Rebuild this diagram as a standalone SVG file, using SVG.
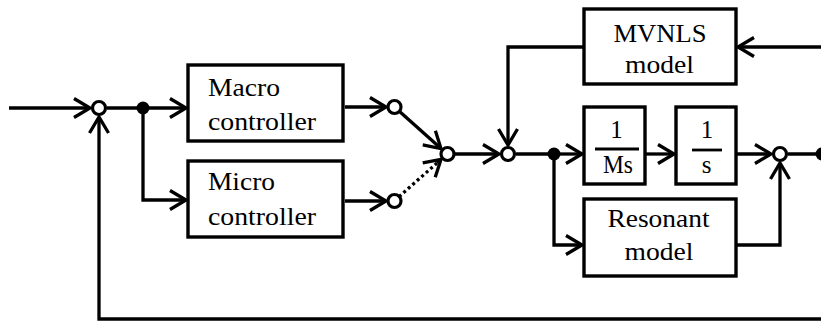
<svg xmlns="http://www.w3.org/2000/svg" width="821" height="321" viewBox="0 0 821 321">
  <style>
    .box { fill: #fff; stroke: #000; stroke-width: 3.4; }
    .ln { fill: none; stroke: #000; stroke-width: 3.3; stroke-linejoin: miter; }
    .arr { marker-end: url(#head); }
    .sum { fill: #fff; stroke: #000; stroke-width: 3.2; }
    .dot { fill: #000; }
    .t { font-family: "Liberation Serif", "Times New Roman", serif; font-size: 25px; fill: #000; }
    .c { text-anchor: middle; }
  </style>
  <defs>
    <marker id="head" markerUnits="userSpaceOnUse" viewBox="-20 -13 24 26" markerWidth="24" markerHeight="26" refX="0" refY="0" orient="auto" overflow="visible">
      <path d="M-16,-9.5 L0,0 L-16,9.5" fill="none" stroke="#000" stroke-width="3.3"/>
    </marker>
  </defs>
  <rect width="821" height="321" fill="#fff"/>

  <!-- signal paths -->
  <g id="connectors">
    <!-- reference input into the first summing junction -->
    <line class="ln arr" x1="9" y1="108" x2="90" y2="108"/>
    <!-- outer feedback loop along the bottom -->
    <polyline class="ln arr" points="821,319 99,319 99,117"/>
    <!-- error to the branch point and the two controllers -->
    <line class="ln" x1="107" y1="108" x2="143" y2="108"/>
    <line class="ln arr" x1="143" y1="108" x2="186" y2="108"/>
    <polyline class="ln arr" points="143,108 143,200 186,200"/>
    <!-- controller outputs to switch contacts -->
    <line class="ln arr" x1="345" y1="107" x2="386" y2="107"/>
    <line class="ln arr" x1="345" y1="201" x2="386" y2="201"/>
    <!-- switch: macro contact closed, micro contact open (dotted) -->
    <line class="ln arr" x1="399" y1="111" x2="441" y2="148.5"/>
    <line class="ln" x1="399" y1="196.8" x2="437" y2="163" stroke-dasharray="3 3"/>
    <line class="ln arr" x1="437" y1="163" x2="441" y2="159.5"/>
    <!-- switch output to the second summing junction -->
    <line class="ln arr" x1="455" y1="154" x2="499" y2="154"/>
    <!-- MVNLS compensation into the second summing junction -->
    <polyline class="ln arr" points="584,47 508,47 508,145"/>
    <!-- force to plant branches -->
    <line class="ln" x1="516" y1="154" x2="554" y2="154"/>
    <line class="ln arr" x1="554" y1="154" x2="582" y2="154"/>
    <polyline class="ln arr" points="554,154 554,245 582,245"/>
    <line class="ln arr" x1="646" y1="154" x2="674" y2="154"/>
    <line class="ln arr" x1="737" y1="154" x2="771" y2="154"/>
    <polyline class="ln arr" points="737,245 780,245 780,163"/>
    <!-- plant output -->
    <line class="ln" x1="788" y1="154" x2="821" y2="154"/>
    <!-- measured output back to the MVNLS model -->
    <line class="ln arr" x1="821" y1="47" x2="738" y2="47"/>
  </g>

  <g id="sum-input">
    <circle class="sum" cx="99" cy="108" r="6.5"/>
  </g>
  <g id="branch-error">
    <circle class="dot" cx="143" cy="108" r="6.5"/>
  </g>

  <g id="macro-controller">
    <rect class="box" x="188" y="65" width="155" height="76"/>
    <text class="t" x="208" y="95.5" textLength="72" lengthAdjust="spacingAndGlyphs">Macro</text>
    <text class="t" x="208" y="130" textLength="108" lengthAdjust="spacingAndGlyphs">controller</text>
  </g>

  <g id="micro-controller">
    <rect class="box" x="188" y="161" width="155" height="76"/>
    <text class="t" x="208" y="190" textLength="67" lengthAdjust="spacingAndGlyphs">Micro</text>
    <text class="t" x="208" y="225" textLength="108" lengthAdjust="spacingAndGlyphs">controller</text>
  </g>

  <g id="switch-macro">
    <circle class="sum" cx="394.5" cy="107" r="6.5"/>
  </g>
  <g id="switch-micro">
    <circle class="sum" cx="394.5" cy="201" r="6.5"/>
  </g>
  <g id="switch-common">
    <circle class="sum" cx="447.5" cy="154" r="6.5"/>
  </g>

  <g id="sum-compensation">
    <circle class="sum" cx="508" cy="154" r="6.5"/>
  </g>
  <g id="branch-force">
    <circle class="dot" cx="554" cy="154" r="6.5"/>
  </g>

  <g id="mvnls-model">
    <rect class="box" x="584" y="9" width="152" height="75"/>
    <text class="t c" x="660" y="41.7" textLength="93" lengthAdjust="spacingAndGlyphs">MVNLS</text>
    <text class="t c" x="659.5" y="73.3" textLength="69" lengthAdjust="spacingAndGlyphs">model</text>
  </g>

  <g id="mass">
    <rect class="box" x="584" y="107" width="61" height="77"/>
    <text class="t c" x="616.5" y="138.3">1</text>
    <line x1="595" y1="149" x2="639" y2="149" stroke="#000" stroke-width="2.8"/>
    <text class="t c" x="618" y="172.7" textLength="30" lengthAdjust="spacingAndGlyphs">Ms</text>
  </g>

  <g id="integrator">
    <rect class="box" x="676" y="107" width="60" height="77"/>
    <text class="t c" x="707" y="138.3">1</text>
    <line x1="692" y1="150" x2="722" y2="150" stroke="#000" stroke-width="2.8"/>
    <text class="t c" x="706.7" y="172.7">s</text>
  </g>

  <g id="resonant-model">
    <rect class="box" x="584" y="199" width="152" height="77"/>
    <text class="t c" x="658.5" y="226.7" textLength="102" lengthAdjust="spacingAndGlyphs">Resonant</text>
    <text class="t c" x="659" y="260" textLength="69" lengthAdjust="spacingAndGlyphs">model</text>
  </g>

  <g id="sum-output">
    <circle class="sum" cx="780" cy="154" r="6.5"/>
  </g>
  <g id="output-point">
    <circle class="dot" cx="822" cy="154" r="6.5"/>
  </g>
</svg>
